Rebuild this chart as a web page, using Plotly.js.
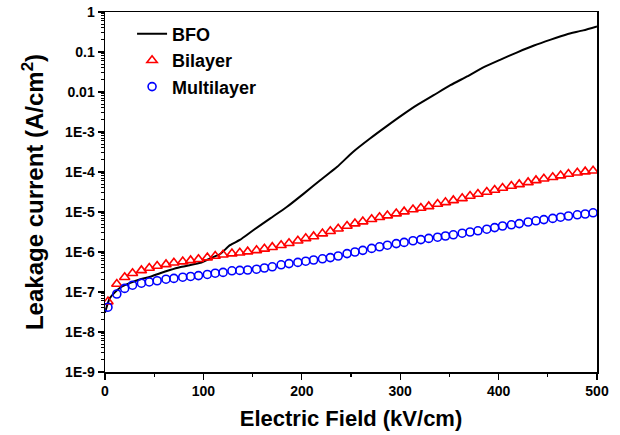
<!DOCTYPE html>
<html>
<head>
<meta charset="utf-8">
<script src="https://cdn.plot.ly/plotly-3.0.1.min.js"></script>
<style>html,body{margin:0;padding:0;background:#fff;}#chart{width:620px;height:435px;}</style>
</head>
<body>
<div id="chart"></div>
<script>
// Electric field (kV/cm) for the BFO curve
const bfoField = [0, 5, 15, 25, 36, 46, 56, 66, 76, 86, 97, 107, 117, 127, 137, 151, 168, 185, 202, 219, 236, 252, 269, 286, 303, 317, 334, 351, 368, 385, 402, 419, 436, 453, 469, 486, 500];
// Leakage current (A/cm^2) for BFO
const bfoCurrent = [3.02e-8, 7.08e-8, 1.26e-7, 1.66e-7, 2.09e-7, 2.40e-7, 2.95e-7, 3.55e-7, 4.17e-7, 4.68e-7, 5.37e-7, 6.92e-7, 8.91e-7, 1.48e-6, 2.00e-6, 3.55e-6, 6.92e-6, 1.35e-5, 2.88e-5, 6.31e-5, 1.35e-4, 3.16e-4, 6.76e-4, 1.38e-3, 2.75e-3, 4.68e-3, 8.32e-3, 1.48e-2, 2.45e-2, 4.17e-2, 6.46e-2, 0.098, 0.145, 0.204, 0.275, 0.347, 0.437];

// Electric field (kV/cm) of the marker series
const layerField = [3, 12, 20, 28, 37, 45, 53, 62, 70, 79, 87, 95, 104, 112, 120, 129, 137, 145, 154, 162, 170, 179, 187, 196, 204, 212, 221, 229, 237, 246, 254, 262, 271, 279, 287, 296, 304, 313, 321, 329, 338, 346, 354, 363, 371, 379, 388, 396, 404, 413, 421, 430, 438, 446, 455, 463, 471, 480, 488, 496];

const bilayerCurrent = [5.75e-8, 1.58e-7, 2.34e-7, 2.95e-7, 3.47e-7, 3.98e-7, 4.47e-7, 4.90e-7, 5.37e-7, 5.75e-7, 6.17e-7, 6.61e-7, 7.24e-7, 7.94e-7, 8.51e-7, 9.12e-7, 9.55e-7, 1.02e-6, 1.10e-6, 1.20e-6, 1.32e-6, 1.48e-6, 1.66e-6, 1.91e-6, 2.19e-6, 2.45e-6, 2.88e-6, 3.31e-6, 3.80e-6, 4.47e-6, 5.13e-6, 5.75e-6, 6.61e-6, 7.41e-6, 8.13e-6, 9.12e-6, 1.02e-5, 1.15e-5, 1.26e-5, 1.38e-5, 1.58e-5, 1.74e-5, 1.95e-5, 2.19e-5, 2.51e-5, 2.82e-5, 3.16e-5, 3.55e-5, 3.98e-5, 4.47e-5, 4.90e-5, 5.50e-5, 6.17e-5, 6.76e-5, 7.41e-5, 8.13e-5, 8.91e-5, 9.55e-5, 1.02e-4, 1.07e-4];

const multilayerCurrent = [4.17e-8, 8.91e-8, 1.23e-7, 1.48e-7, 1.66e-7, 1.78e-7, 1.91e-7, 2.09e-7, 2.19e-7, 2.34e-7, 2.45e-7, 2.57e-7, 2.75e-7, 2.95e-7, 3.09e-7, 3.39e-7, 3.47e-7, 3.55e-7, 3.72e-7, 3.98e-7, 4.27e-7, 4.79e-7, 5.13e-7, 5.50e-7, 5.89e-7, 6.31e-7, 6.76e-7, 7.24e-7, 7.94e-7, 9.12e-7, 1.00e-6, 1.10e-6, 1.23e-6, 1.35e-6, 1.48e-6, 1.62e-6, 1.74e-6, 1.91e-6, 2.04e-6, 2.19e-6, 2.34e-6, 2.51e-6, 2.69e-6, 2.95e-6, 3.16e-6, 3.39e-6, 3.72e-6, 4.07e-6, 4.47e-6, 4.79e-6, 5.13e-6, 5.62e-6, 6.03e-6, 6.46e-6, 6.92e-6, 7.41e-6, 7.94e-6, 8.51e-6, 8.91e-6, 9.55e-6];

// Axis tick labels
const yTickVals = [1, 0.1, 0.01, 1e-3, 1e-4, 1e-5, 1e-6, 1e-7, 1e-8, 1e-9];
const yTickText = ["1", "0.1", "0.01", "1E-3", "1E-4", "1E-5", "1E-6", "1E-7", "1E-8", "1E-9"];
const xTickVals = [0, 100, 200, 300, 400, 500];

// minor tick positions (axis decoration only)
const yMinor = [];
for (let e = -9; e < 0; e++) for (let m = 2; m <= 9; m++) yMinor.push(m * Math.pow(10, e));
const xMinor = [50, 150, 250, 350, 450];

const FONT = "Liberation Sans, Arial, sans-serif";

const traces = [
  {x: bfoField, y: bfoCurrent, name: "BFO", type: "scatter", mode: "lines",
   line: {color: "#000000", width: 2, shape: "spline", smoothing: 0.6}},
  {x: layerField, y: bilayerCurrent, name: "Bilayer", type: "scatter", mode: "markers",
   marker: {symbol: "triangle-up-open", size: 9, color: "#ff0000", line: {width: 1.6, color: "#ff0000"}}},
  {x: layerField, y: multilayerCurrent, name: "Multilayer", type: "scatter", mode: "markers",
   marker: {symbol: "circle-open", size: 8, color: "#0000ff", line: {width: 1.6, color: "#0000ff"}}},
  // invisible carrier trace so the minor-tick overlay axes get drawn
  {x: layerField, y: multilayerCurrent, xaxis: "x2", yaxis: "y2", type: "scatter", mode: "markers",
   marker: {opacity: 0, size: 1}, showlegend: false, hoverinfo: "skip"}
];

const layout = {
  width: 620, height: 435,
  margin: {l: 105, r: 23, t: 12, b: 63},
  paper_bgcolor: "#ffffff", plot_bgcolor: "#ffffff",
  font: {family: FONT, color: "#000000"},
  showlegend: true,
  legend: {x: 0.055, y: 0.99, xanchor: "left", yanchor: "top",
           bgcolor: "rgba(0,0,0,0)", borderwidth: 0,
           font: {family: FONT, size: 18, color: "#000", weight: "bold"}},
  xaxis: {
    range: [0, 500], tickmode: "array", tickvals: xTickVals,
    ticks: "outside", ticklen: 6, tickwidth: 1.3, tickcolor: "#000",
    showline: true, linecolor: "#000", linewidth: 1.5, mirror: true,
    showgrid: false, zeroline: false,
    tickfont: {family: FONT, size: 14, weight: "bold"},
    title: {text: "Electric Field (kV/cm)", font: {family: FONT, size: 22, weight: "bold"}, standoff: 12}
  },
  xaxis2: {
    overlaying: "x", anchor: "y2", side: "bottom",
    range: [0, 500], tickmode: "array", tickvals: xMinor,
    ticks: "outside", ticklen: 4, tickwidth: 1.3, tickcolor: "#000",
    showticklabels: false, showline: false, showgrid: false, zeroline: false
  },
  yaxis: {
    type: "log", range: [-9, 0], tickmode: "array", tickvals: yTickVals, ticktext: yTickText,
    ticks: "outside", ticklen: 6, tickwidth: 1.3, tickcolor: "#000",
    showline: true, linecolor: "#000", linewidth: 1.5, mirror: true,
    showgrid: false, zeroline: false,
    tickfont: {family: FONT, size: 14, weight: "bold"},
    title: {text: "Leakage current (A/cm<sup>2</sup>)", font: {family: FONT, size: 24, weight: "bold"}, standoff: 14}
  },
  yaxis2: {
    overlaying: "y", anchor: "x2", side: "left",
    type: "log", range: [-9, 0], tickmode: "array", tickvals: yMinor,
    ticks: "outside", ticklen: 3.5, tickwidth: 1, tickcolor: "#000",
    showticklabels: false, showline: false, showgrid: false, zeroline: false
  }
};

Plotly.newPlot("chart", traces, layout, {staticPlot: true, displayModeBar: false});
</script>
</body>
</html>
